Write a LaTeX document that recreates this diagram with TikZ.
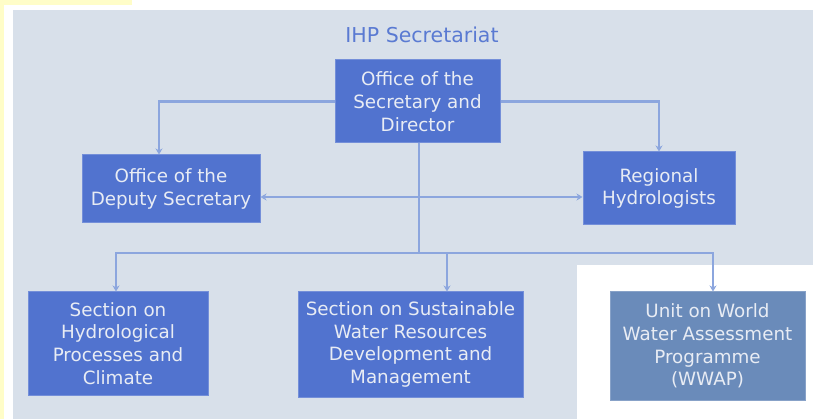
\documentclass[tikz,border=0pt]{standalone}
\usepackage{fontspec}
\setmainfont{DejaVu Sans}
\usetikzlibrary{arrows.meta}
\definecolor{bgc}{HTML}{D8E0EA}
\definecolor{boxc}{HTML}{5173CF}
\definecolor{wwapc}{HTML}{6A8BBA}
\definecolor{linec}{HTML}{8CA6DE}
\definecolor{txtc}{HTML}{E8ECF4}
\definecolor{titc}{HTML}{5A7AD2}
\definecolor{yel}{HTML}{FFFDC8}
\tikzset{
  orgbox/.style={fill=boxc, draw=boxc!80!white, line width=1pt, text=txtc, align=center,
    font=\fontsize{18.3}{22.7}\selectfont, inner sep=0pt},
  conn/.style={draw=linec, line width=2.5pt},
  tip/.style={-{Stealth[length=6pt,width=7pt]}},
}
\begin{document}
\begin{tikzpicture}[x=1pt,y=-1pt]
\useasboundingbox (0,0) rectangle (813,419);
\fill[white] (0,0) rectangle (813,419);
\fill[yel] (0,0) rectangle (132,5);
\fill[yel] (0,0) rectangle (4,419);
\fill[bgc] (13,10) rectangle (813,419);
\fill[white] (577,265) rectangle (813,419);

\node[text=titc, font=\fontsize{20.5}{24}\selectfont] (title) at (422,35) {IHP Secretariat};

\node[orgbox, minimum width=165pt, minimum height=83pt] (top) at (417.5,101.5) {Office of the\\Secretary and\\Director};
\node[orgbox, minimum width=178pt, minimum height=68pt] (dep) at (171,189) {Office of the\\Deputy Secretary};
\node[orgbox, minimum width=152pt, minimum height=73pt] (reg) at (659,188.5) {Regional\\Hydrologists};
\node[orgbox, minimum width=180pt, minimum height=103pt] (hyd) at (118,343.5) {Section on\\Hydrological\\Processes and\\Climate};
\node[orgbox, minimum width=225pt, minimum height=105pt] (sus) at (410.5,344.5) {Section on Sustainable\\Water Resources\\Development and\\Management};
\node[orgbox, fill=wwapc, draw=wwapc!80!white, minimum width=195pt, minimum height=108pt] (wwap) at (707.5,346) {Unit on World\\Water Assessment\\Programme\\(WWAP)};

\coordinate (bus) at (419,253);
\coordinate (dn) at ([xshift=-12pt]dep.north);
\coordinate (hn) at ([xshift=-2pt]hyd.north);
\coordinate (sn) at ([xshift=36.5pt]sus.north);
\coordinate (wn) at ([xshift=5.5pt]wwap.north);
\coordinate (de) at ([yshift=-8pt]dep.east);
\coordinate (rw) at ([yshift=-8.5pt]reg.west);

\draw[conn] ([xshift=1.5pt]top.south) -- (bus);
\draw[conn, tip] (top.west) -| (dn);
\draw[conn, tip] (top.east) -| (reg.north);
\draw[conn, {Stealth[length=6pt,width=7pt]}-{Stealth[length=6pt,width=7pt]}] (de) -- (rw);
\draw[conn, tip] (bus) -| (hn);
\draw[conn, tip] (bus) -| (sn);
\draw[conn, tip] (bus) -| (wn);
\end{tikzpicture}
\end{document}
